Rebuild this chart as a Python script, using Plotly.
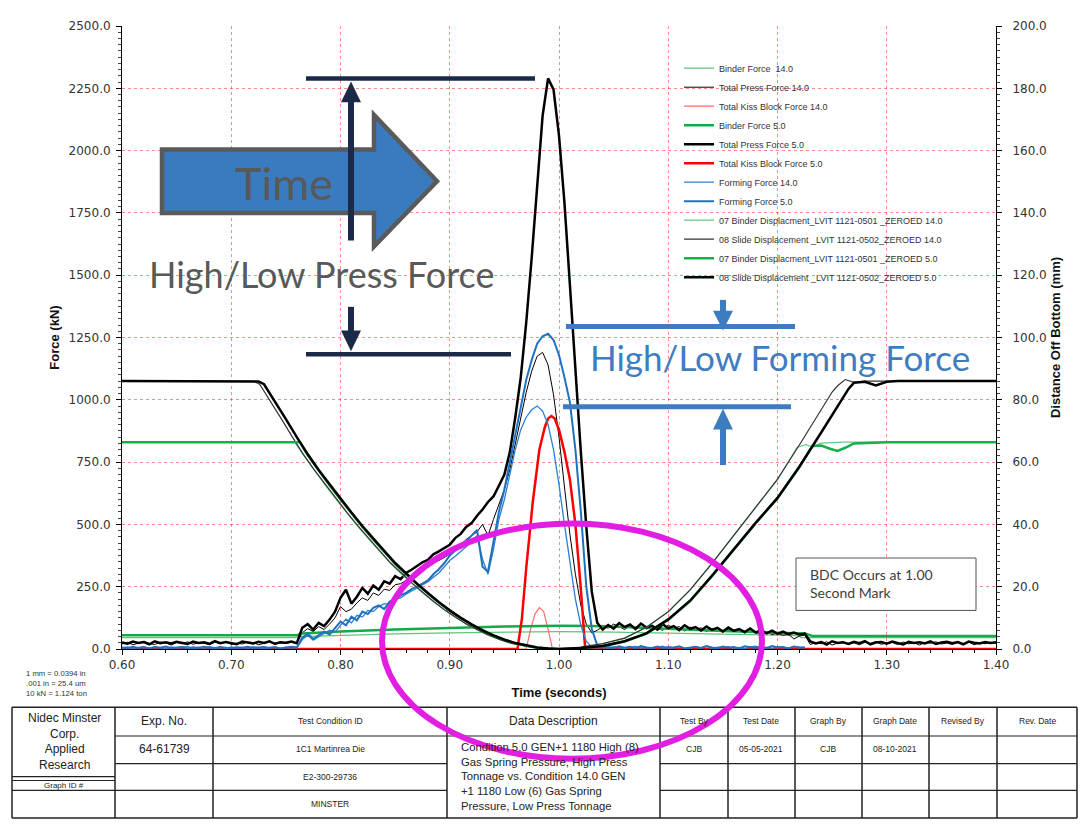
import numpy as np
import plotly.graph_objects as go

# ---- data ----
# shared sample clock for the noisy force channels
T_GRID = np.round(np.arange(0.600, 1.4001, 0.005), 3)
T_FORM = T_GRID[:126]  # forming force channels stop at 1.225 s

press_5 = [
    26, 21, 30, 24, 28, 19, 31, 23, 27, 22, 29, 25, 20, 30, 24, 27, 21, 32, 23, 28,
    25, 19, 30, 26, 22, 29, 24, 31, 21, 27, 25, 30, 23,
    85, 100, 78, 105, 92, 118, 150, 205, 238, 182, 210, 245, 222, 255, 238, 272, 262, 292, 280, 305,
    318, 332, 348, 358, 380, 392, 405, 418, 445, 462, 490, 505, 535, 560, 590, 612, 655, 700, 790, 930,
    1090, 1310, 1570, 1860, 2140, 2290, 2245, 2060, 1790, 1460, 1110, 790, 490, 230, 105, 78,
    96, 82, 104, 88, 98, 80, 102, 86, 94, 78, 99, 84, 92, 76, 95, 81, 88, 74, 90, 77,
    85, 70, 86, 73, 80, 68, 82, 66, 76, 63, 74, 61, 70, 60, 66, 58, 62,
    30, 22, 28, 18, 31, 24, 27, 20, 29, 23, 32, 19, 26, 28, 21, 30, 25, 18, 29, 24,
    27, 22, 31, 20, 26, 29, 23, 28, 19, 30, 25, 22, 28, 24, 27,
]
press_14 = [
    20, 27, 17, 25, 30, 22, 18, 28, 24, 16, 26, 21, 29, 19, 25, 23, 17, 27, 22, 30,
    18, 24, 20, 28, 26, 17, 23, 29, 19, 25, 22, 27, 24,
    65, 82, 70, 90, 78, 100, 125, 170, 150, 160, 185, 205, 195, 225, 215, 240, 235, 258, 262, 275,
    290, 300, 318, 328, 345, 355, 368, 380, 398, 415, 440, 455, 470, 500, 455, 520, 580, 640, 720, 820,
    930, 1030, 1115, 1175, 1190, 1140, 1020, 850, 650, 460, 300, 175, 100, 65, 75, 90,
    84, 100, 90, 78, 95, 86, 102, 80, 92, 85, 75, 96, 83, 90, 72, 88, 79, 85, 70, 82,
    75, 68, 80, 71, 77, 64, 72, 67, 60, 70, 58, 64, 55, 60, 40, 52, 56,
    18, 26, 21, 29, 16, 24, 28, 20, 25, 17, 27, 22, 30, 19, 24, 26, 18, 28, 21, 25,
    16, 27, 23, 29, 20, 24, 18, 26, 22, 28, 17, 25, 21, 27, 23,
]
forming_5 = [
    6, 3, 9, 4, 7, 2, 8, 5, 10, 3, 6, 8, 2, 7, 4, 9, 5, 3, 8, 6,
    2, 7, 4, 9, 3, 6, 8, 4, 7, 2, 5, 9, 6,
    45, 62, 40, 55, 70, 58, 85, 110, 95, 130, 115, 150, 140, 165, 175, 160, 190, 200, 215, 225,
    240, 250, 262, 275, 300, 320, 345, 375, 395, 410, 432, 455, 478, 330, 310, 430, 550, 640, 750, 870,
    980, 1080, 1160, 1225, 1255, 1265, 1240, 1180, 1090, 990, 800, 550, 250, 80, 15, 6,
    8, 3, 11, 5, 9, 2, 12, 6, 4, 10, 3, 8, 5, 11, 2, 7, 9, 4, 12, 6,
    3, 10, 5, 8, 2, 11, 7, 4, 9, 3, 12, 6, 8, 2, 10, 5, 7,
]
forming_14 = [
    4, 8, 2, 6, 9, 3, 7, 5, 1, 8, 4, 6, 10, 2, 7, 3, 9, 5, 6, 2,
    8, 4, 7, 3, 9, 5, 2, 6, 8, 3, 7, 4, 5,
    38, 55, 35, 50, 62, 75, 68, 95, 120, 105, 135, 128, 155, 150, 170, 182, 178, 198, 205, 220,
    232, 245, 255, 270, 288, 305, 330, 355, 372, 390, 410, 432, 455, 360, 300, 400, 520, 600, 700, 800,
    880, 930, 960, 975, 955, 900, 800, 660, 500, 340, 200, 95, 30, 8, 4, 7,
    3, 9, 5, 1, 7, 10, 4, 6, 2, 8, 11, 3, 6, 9, 1, 5, 8, 4, 10, 2,
    7, 5, 9, 3, 6, 1, 8, 11, 4, 7, 2, 9, 5, 3, 10, 6, 4,
]

t_kiss_5 = [0.60, 0.962, 0.966, 0.970, 0.976, 0.982, 0.987, 0.990, 0.993, 0.996,
            1.000, 1.005, 1.010, 1.015, 1.020, 1.024, 1.40]
kiss_5 = [0, 0, 120, 325, 590, 800, 890, 925, 935, 925, 880, 790, 680, 500, 240, 0, 0]
t_kiss_14 = [0.60, 0.970, 0.974, 0.978, 0.982, 0.986, 0.990, 0.994, 1.40]
kiss_14 = [0, 0, 80, 140, 166, 150, 80, 0, 0]

t_binder_f5 = [0.60, 0.76, 0.765, 0.78, 0.80, 0.85, 0.90, 0.95, 1.00, 1.03, 1.06,
               1.10, 1.15, 1.20, 1.225, 1.232, 1.40]
binder_f5 = [55, 55, 62, 66, 70, 78, 85, 90, 93, 92, 88, 80, 72, 65, 62, 52, 52]
t_binder_f14 = [0.60, 0.758, 0.762, 0.80, 0.85, 0.90, 0.95, 1.00, 1.05, 1.10, 1.15,
                1.20, 1.218, 1.222, 1.40]
binder_f14 = [46, 46, 50, 56, 61, 65, 68, 70, 68, 64, 60, 56, 54, 46, 46]

# displacement channels (mm, right axis)
t_slide_5 = [0.60, 0.72, 0.725, 0.73,
             0.74, 0.75, 0.76, 0.77, 0.78, 0.79, 0.80, 0.81, 0.82, 0.83, 0.84, 0.85, 0.86,
             0.87, 0.88, 0.89, 0.90, 0.91, 0.92, 0.93, 0.94, 0.95, 0.96, 0.97, 0.98, 0.99, 1.00,
             1.02, 1.04, 1.06, 1.08, 1.10, 1.12, 1.14, 1.16, 1.18, 1.20, 1.22, 1.24,
             1.25, 1.26, 1.265, 1.27, 1.28, 1.29, 1.30, 1.31, 1.40]
slide_5 = [86, 86, 85.9, 85,
           79.5, 73.8, 68, 62.5, 57.5, 52.8, 48.2, 43.8, 39.5, 35.4, 31.5, 27.6, 24.2,
           21, 18, 15, 12.4, 10, 7.9, 6, 4.4, 3, 1.9, 1.1, 0.5, 0.15, 0,
           0.3, 1, 2.5, 5, 9.5, 15.5, 23.5, 32, 40.5, 48.5, 58.5, 69.5,
           75, 80.5, 83.5, 85.5, 85.8, 84.6, 85.8, 86, 86]
t_slide_14 = [0.60, 0.716, 0.721, 0.726,
              0.736, 0.746, 0.756, 0.766, 0.776, 0.786, 0.796, 0.806, 0.816, 0.826, 0.836, 0.846,
              0.856, 0.866, 0.876, 0.886, 0.896, 0.906, 0.916, 0.926, 0.936, 0.946, 0.956, 0.966,
              0.976, 0.986, 0.996, 1.00,
              1.02, 1.04, 1.06, 1.08, 1.10, 1.12, 1.14, 1.16, 1.18, 1.20, 1.22, 1.24,
              1.25, 1.255, 1.262, 1.27, 1.28, 1.40]
slide_14 = [86, 86, 85.9, 85,
            79.5, 73.8, 68, 62.5, 57.5, 52.8, 48.2, 43.8, 39.5, 35.4, 31.5, 27.6, 24.2,
            21, 18, 15, 12.4, 10, 7.9, 6, 4.4, 3, 1.9, 1.1, 0.5, 0.15, 0.02, 0,
            0.6, 1.7, 3.5, 7, 12, 19, 27.5, 36.5, 45.5, 54.5, 65.5, 77,
            82.5, 84.5, 86.5, 85.6, 86, 86]
t_binder_d5 = [0.60, 0.763, 0.77, 0.78, 0.79, 0.80, 0.81, 0.82, 0.83, 0.84, 0.85, 0.86,
               0.88, 0.90, 0.92, 0.94, 0.96, 0.98, 1.00, 1.02, 1.04, 1.06, 1.08, 1.10,
               1.12, 1.14, 1.16, 1.18, 1.20, 1.22,
               1.232, 1.24, 1.248, 1.255, 1.262, 1.27, 1.30, 1.40]
binder_d5 = [66.4, 66.4, 62.3, 57.3, 52.6, 48, 43.6, 39.3, 35.2, 31.3, 27.4, 24,
             17.8, 12.3, 7.8, 4.3, 1.8, 0.4, 0, 0.2, 0.9, 2.4, 4.9, 9.4,
             15.4, 23.4, 31.9, 40.4, 48.4, 58.4,
             65.2, 65.3, 64.3, 63.6, 64.6, 66, 66.4, 66.4]
t_binder_d14 = [0.60, 0.758, 0.766, 0.776, 0.786, 0.796, 0.806, 0.816, 0.826, 0.836, 0.846, 0.856,
                0.876, 0.896, 0.916, 0.936, 0.956, 0.976,
                1.00, 1.02, 1.04, 1.06, 1.08, 1.10, 1.12, 1.14, 1.16, 1.18, 1.20,
                1.218, 1.226, 1.232, 1.24, 1.26, 1.40]
binder_d14 = [66.4, 66.4, 62.3, 57.3, 52.6, 48, 43.6, 39.3, 35.2, 31.3, 27.4, 24,
              17.8, 12.3, 7.8, 4.3, 1.8, 0.4,
              0, 0.5, 1.6, 3.4, 6.9, 11.9, 18.9, 27.4, 36.4, 45.4, 54.4,
              64.8, 65.6, 64.8, 66.1, 66.4, 66.4]

# ---- page geometry (reference pixels -> paper); page body has an 8px margin ----
OFF = 8
W, H = 1087 - OFF, 827 - OFF
L, R, T, B = 122, 996, 19, 649


def px(x):
    return (x - L) / (R - L)


def py(y):
    return (B - y) / (B - T)


fig = go.Figure()


def add(x, y, name, color, width, axis="y"):
    fig.add_trace(go.Scatter(x=x, y=y, name=name, mode="lines", yaxis=axis,
                             line=dict(color=color, width=width)))


add(t_binder_f14, binder_f14, "Binder Force \u00a014.0", "#5fc57a", 1.2)
add(T_GRID, press_14, "Total Press Force 14.0", "#000000", 1.0)
add(t_kiss_14, kiss_14, "Total Kiss Block Force 14.0", "#ff6b6b", 1.2)
add(t_binder_f5, binder_f5, "Binder Force 5.0", "#17a84a", 2.5)
add(T_GRID, press_5, "Total Press Force 5.0", "#000000", 2.5)
add(t_kiss_5, kiss_5, "Total Kiss Block Force 5.0", "#ff0000", 2.5)
add(T_FORM, forming_14, "Forming Force 14.0", "#2e7fd2", 1.3)
add(T_FORM, forming_5, "Forming Force 5.0", "#2070c0", 2.0)
add(t_binder_d14, binder_d14, "07 Binder Displacment_LVIT 1121-0501 _ZEROED 14.0", "#66c888", 1.2, "y2")
add(t_slide_14, slide_14, "08 Slide Displacement _LVIT 1121-0502_ZEROED 14.0", "#333333", 1.2, "y2")
add(t_binder_d5, binder_d5, "07 Binder Displacment_LVIT 1121-0501 _ZEROED 5.0", "#1aad4d", 2.5, "y2")
add(t_slide_5, slide_5, "08 Slide Displacement _LVIT 1121-0502_ZEROED 5.0", "#000000", 2.5, "y2")

tickfont = dict(family="DejaVu Sans", size=12, color="#333333")
titlefont = dict(family="Liberation Sans, Arial", size=13, color="#111111")
grid = dict(showgrid=True, gridcolor="rgba(255,40,40,0.55)", griddash="dot", gridwidth=1)

fig.update_xaxes(range=[0.6, 1.4], dtick=0.1, tickformat=".2f", tickfont=tickfont,
                 showline=True, linecolor="black", linewidth=1, ticks="outside", ticklen=5,
                 tickcolor="black", zeroline=False,
                 minor=dict(dtick=0.02, ticks="outside", ticklen=3, tickcolor="black", showgrid=False),
                 title=dict(text="<b>Time (seconds)</b>", font=titlefont, standoff=16), **grid)
fig.update_layout(
    yaxis=dict(range=[0, 2500], dtick=250, tickformat=".1f", tickfont=tickfont,
               showline=True, linecolor="black", linewidth=1, ticks="outside", ticklen=5,
               tickcolor="black", zeroline=False, ticklabelstandoff=3,
               minor=dict(dtick=25, ticks="outside", ticklen=3, tickcolor="#444", showgrid=False),
               title=dict(text="<b>Force (kN)</b>", font=titlefont, standoff=6), **grid),
    yaxis2=dict(range=[0, 200], dtick=20, tickformat=".1f", tickfont=tickfont, overlaying="y",
                side="right", showgrid=False, showline=True, linecolor="black", linewidth=1,
                ticks="outside", ticklen=5, tickcolor="black", zeroline=False, ticklabelstandoff=8,
                minor=dict(dtick=2, ticks="outside", ticklen=3, tickcolor="#444", showgrid=False),
                title=dict(text="<b>Distance Off Bottom (mm)</b>", font=titlefont, standoff=5)),
)

# ---- overlays ----
shapes = []
annos = []


def seg(x0, y0, x1, y1, color, width):
    shapes.append(dict(type="line", xref="paper", yref="paper", x0=px(x0), y0=py(y0),
                       x1=px(x1), y1=py(y1), line=dict(color=color, width=width)))


def poly(points, fill, line_color=None, line_width=0):
    path = "M " + " L ".join(f"{px(a):.5f},{py(b):.5f}" for a, b in points) + " Z"
    shapes.append(dict(type="path", xref="paper", yref="paper", path=path, fillcolor=fill,
                       line=dict(color=line_color or fill, width=line_width)))


def text(x, y, s, size, color="#222", family="Liberation Sans, Arial", xanchor="center", align="center"):
    annos.append(dict(x=px(x), y=py(y), xref="paper", yref="paper", text=s, showarrow=False,
                      xanchor=xanchor, yanchor="middle", align=align,
                      font=dict(size=size, color=color, family=family)))


# "Time" arrow
poly([(162, 144), (374, 144), (374, 109), (437, 176), (374, 242), (374, 208), (162, 208)],
     "#3a7bbf", "#5a5a5a", 4.5)
NAVY = "#1c2a4a"
seg(306, 72, 535, 72, NAVY, 4.5)
seg(306, 351, 511, 351, NAVY, 4.5)
seg(351, 236, 351, 92, NAVY, 6)
poly([(341, 96), (361, 96), (351, 75)], NAVY)
seg(351, 303, 351, 330, NAVY, 6)
poly([(341, 327), (361, 327), (351, 348)], NAVY)

BLUE = "#3e7cc0"
seg(566, 323, 795, 323, BLUE, 5)
seg(563, 404, 791, 404, BLUE, 5)
seg(723, 296, 723, 310, BLUE, 6)
poly([(713, 307), (733, 307), (723, 327)], BLUE)
seg(723, 424, 723, 463, BLUE, 6)
poly([(713, 427), (733, 427), (723, 406)], BLUE)

# BDC box
shapes.append(dict(type="rect", xref="paper", yref="paper", x0=px(796), y0=py(610),
                   x1=px(976), y1=py(557), fillcolor="white", line=dict(color="#555", width=1)))

# bottom info table
TC = "#222222"
seg(12, 708, 1077, 708, TC, 1.5)
seg(12, 820, 1077, 820, TC, 1.5)
for xv in [12, 115, 213, 447, 660, 728, 795, 862, 929, 997, 1077]:
    seg(xv, 708, xv, 820, TC, 1.5)
for yv in [737, 765, 792]:
    seg(115, yv, 447, yv, TC, 1.2)
    seg(660, yv, 1077, yv, TC, 1.2)
seg(447, 737, 660, 737, TC, 1.2)
seg(12, 778, 115, 778, TC, 1.2)
seg(12, 782, 115, 782, TC, 1.0)
seg(12, 792, 115, 792, TC, 1.2)

# magenta ellipse (drawn last)
shapes.append(dict(type="circle", xref="paper", yref="paper", x0=px(382), x1=px(762),
                   y0=py(760), y1=py(522), line=dict(color="#e31ee3", width=6)))

CAL = "Lato, Open Sans, sans-serif"
text(284, 178, "Time", 45, "#595959", CAL)
text(322, 270, "High/Low Press Force", 36, "#595959", CAL)
text(780, 354, "High/Low Forming Force", 35, "#3f7dc1", CAL)
text(808, 583, "BDC Occurs at 1.00<br>Second Mark", 14, "#404040", CAL, xanchor="left", align="left")
text(24, 684, "1 mm = 0.0394 in<br>.001 in = 25.4 um<br>10 kN = 1.124 ton", 7.7, "#333",
     xanchor="left", align="left")

text(64, 743, "Nidec Minster<br>Corp.<br>Applied<br>Research", 12, TC)
text(64, 787, "Graph ID #", 8, TC)
text(164, 722, "Exp. No.", 12, TC)
text(164, 750, "64-61739", 12, TC)
text(330, 722, "Test Condition ID", 8.5, TC)
text(330, 750, "1C1 Martinrea Die", 8.5, TC)
text(330, 778, "E2-300-29736", 8.5, TC)
text(330, 806, "MINSTER", 8.5, TC)
text(553, 722, "Data Description", 12, TC)
text(459, 778, "Condition 5.0 GEN+1 1180 High (8)<br>Gas Spring Pressure, High Press<br>"
     "Tonnage vs. Condition 14.0 GEN<br>+1 1180 Low (6) Gas Spring<br>Pressure, Low Press Tonnage",
     11.3, TC, xanchor="left", align="left")
for label, xc in zip(["Test By", "Test Date", "Graph By", "Graph Date", "Revised By", "Rev. Date"],
                     [694, 761, 828, 895, 963, 1037]):
    text(xc, 722, label, 8.5, TC)
for label, xc in zip(["CJB", "05-05-2021", "CJB", "08-10-2021"], [694, 761, 828, 895]):
    text(xc, 750, label, 8.5, TC)

fig.update_layout(
    width=W, height=H, autosize=False,
    margin=dict(l=L - OFF, r=W - (R - OFF), t=T - OFF, b=H - (B - OFF)),
    paper_bgcolor="white", plot_bgcolor="white",
    shapes=shapes, annotations=annos,
    showlegend=True,
    legend=dict(x=px(679), y=py(47), xanchor="left", yanchor="top", bgcolor="rgba(0,0,0,0)",
                font=dict(family="Liberation Sans, Arial", size=9, color="#333"),
                tracegroupgap=0),
)

fig.write_html("out.html")
